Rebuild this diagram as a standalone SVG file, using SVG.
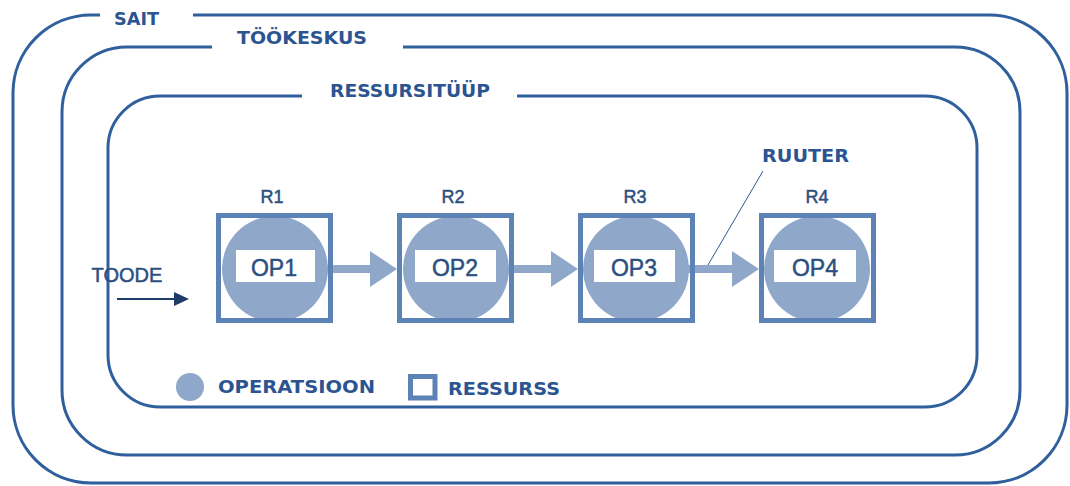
<svg xmlns="http://www.w3.org/2000/svg" width="1070" height="486" viewBox="0 0 1070 486">
  <defs>
    <style>
      .frame { fill: none; stroke: #2f5f9c; stroke-width: 3; }
      .title { font-family: "DejaVu Sans", "Liberation Sans", sans-serif; font-weight: bold; fill: #2b5490; }
      .res { fill: none; stroke: #5d83b6; stroke-width: 5; }
      .op { fill: #8fa8c9; }
      .tag { fill: #ffffff; }
      .lbl { font-family: "Liberation Sans", Arial, sans-serif; fill: #2d4f80; stroke: #2d4f80; stroke-width: 0.5; text-anchor: middle; }
      .flow { fill: #8fa8c9; }
    </style>
  </defs>
  <rect width="1070" height="486" fill="#ffffff"/>

  <!-- nested scopes: site, work centre, resource type -->
  <g id="sait">
    <path class="frame" d="M193 15 H989 A78 78 0 0 1 1067 93 V405 A78 78 0 0 1 989 483 H91 A78 78 0 0 1 13 405 V93 A78 78 0 0 1 91 15 H100"/>
    <text class="title" x="114" y="25" font-size="18" textLength="45" lengthAdjust="spacingAndGlyphs">SAIT</text>
  </g>
  <g id="tookeskus">
    <path class="frame" d="M403 47 H955 A65 65 0 0 1 1020 112 V390 A65 65 0 0 1 955 455 H127 A65 65 0 0 1 62 390 V112 A65 65 0 0 1 127 47 H212"/>
    <text class="title" x="237" y="44" font-size="18" textLength="130" lengthAdjust="spacingAndGlyphs">TÖÖKESKUS</text>
  </g>
  <g id="ressursituup">
    <path class="frame" d="M517 96 H925 A52 52 0 0 1 977 148 V355 A52 52 0 0 1 925 407 H160 A52 52 0 0 1 108 355 V148 A52 52 0 0 1 160 96 H302"/>
    <text class="title" x="330" y="97" font-size="18" textLength="160" lengthAdjust="spacingAndGlyphs">RESSURSITÜÜP</text>
  </g>

  <!-- connectors -->
  <g id="connectors">
    <rect class="flow" x="326" y="265" width="45" height="8"/>
    <polygon class="flow" points="370,251 397,269 370,287"/>
    <rect class="flow" x="507" y="265" width="45" height="8"/>
    <polygon class="flow" points="551,251 578,269 551,287"/>
    <rect class="flow" x="688" y="265" width="45" height="8"/>
    <polygon class="flow" points="732,251 759,269 732,287"/>
    <!-- incoming product -->
    <line x1="117" y1="299" x2="176" y2="299" stroke="#1f3b68" stroke-width="2"/>
    <polygon points="174,292 189,299 174,306" fill="#1f3b68"/>
    <!-- router pointer -->
    <line x1="763" y1="171" x2="708" y2="265" stroke="#2b5a94" stroke-width="1"/>
  </g>

  <text class="lbl" x="127" y="282" font-size="20" stroke-width="0.2">TOODE</text>
  <text class="title" x="762" y="162" font-size="18" textLength="87" lengthAdjust="spacingAndGlyphs">RUUTER</text>

  <!-- resources with their operations -->
  <g id="r1">
    <text class="lbl" x="272" y="203" font-size="18">R1</text>
    <circle class="op" cx="275" cy="269" r="53"/>
    <rect class="res" x="218.5" y="215.5" width="112" height="105"/>
    <rect class="tag" x="236" y="250" width="79" height="32"/>
    <text class="lbl" x="274" y="276" font-size="23">OP1</text>
  </g>
  <g id="r2">
    <text class="lbl" x="453" y="203" font-size="18">R2</text>
    <circle class="op" cx="456" cy="269" r="53"/>
    <rect class="res" x="399.5" y="215.5" width="112" height="105"/>
    <rect class="tag" x="415" y="250" width="81" height="32"/>
    <text class="lbl" x="455" y="276" font-size="23">OP2</text>
  </g>
  <g id="r3">
    <text class="lbl" x="635" y="203" font-size="18">R3</text>
    <circle class="op" cx="636" cy="269" r="53"/>
    <rect class="res" x="580.5" y="215.5" width="112" height="105"/>
    <rect class="tag" x="594" y="250" width="81" height="32"/>
    <text class="lbl" x="634" y="276" font-size="23">OP3</text>
  </g>
  <g id="r4">
    <text class="lbl" x="817" y="203" font-size="18">R4</text>
    <circle class="op" cx="817" cy="269" r="53"/>
    <rect class="res" x="761.5" y="215.5" width="112" height="105"/>
    <rect class="tag" x="774" y="250" width="82" height="32"/>
    <text class="lbl" x="815" y="276" font-size="23">OP4</text>
  </g>

  <!-- legend -->
  <g id="legend">
    <circle class="op" cx="190" cy="387" r="14"/>
    <text class="title" x="218" y="393" font-size="17" textLength="157" lengthAdjust="spacingAndGlyphs">OPERATSIOON</text>
    <rect class="res" x="410.5" y="376.5" width="24.5" height="21.5" stroke-width="4.5"/>
    <text class="title" x="448" y="395" font-size="17" textLength="112" lengthAdjust="spacingAndGlyphs">RESSURSS</text>
  </g>
</svg>
